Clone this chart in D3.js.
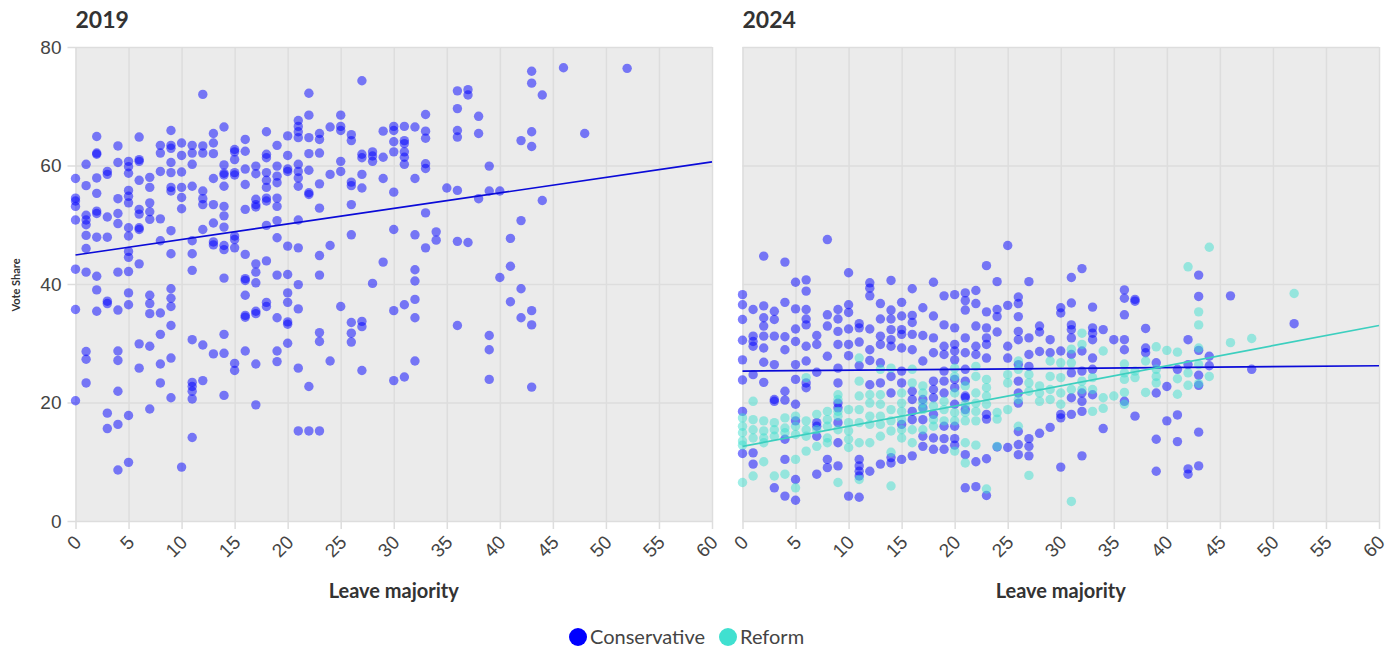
<!DOCTYPE html>
<meta charset="utf-8" />
<style>
  body {
    margin: 0;
    font-family: Lato, "Open Sans", sans-serif;
    background: #fff;
  }
  .domain {
    display: none;
  }
  .grid line {
    stroke: #dddddd;
    stroke-width: 1.5;
  }
  .tick text {
    fill: #444;
    font-size: 19px;
  }
</style>
<body>
  <div class="container"></div>

  <script src="https://d3js.org/d3.v7.min.js"></script>
  <script>
    // values: [leave majority, vote shares at that majority]
    const con2019 = [
      [0, [57.8, 54.5, 54.0, 53.1, 50.8, 42.5, 35.7, 20.3]],
      [1, [60.2, 56.6, 51.6, 50.8, 50.0, 48.2, 46.0, 42.0, 28.6, 27.3, 23.3]],
      [2, [64.9, 62.1, 61.9, 57.9, 55.3, 52.3, 51.9, 47.9, 41.3, 39.0, 35.4]],
      [3, [59.0, 58.5, 51.3, 47.9, 37.1, 36.7, 18.2, 15.6]],
      [4, [63.3, 60.5, 54.4, 51.9, 50.2, 42.0, 35.6, 28.7, 27.1, 21.9, 16.3, 8.6]],
      [5, [60.7, 59.8, 58.7, 55.8, 54.8, 53.7, 49.5, 48.1, 45.5, 44.5, 42.1, 38.5, 36.5, 17.8, 9.9]],
      [6, [64.8, 61.0, 60.7, 57.5, 52.6, 51.8, 49.5, 49.2, 43.4, 29.9, 25.8]],
      [7, [58.0, 56.3, 53.7, 52.2, 50.9, 38.1, 36.7, 35.0, 29.5, 18.9]],
      [8, [63.4, 62.1, 59.0, 51.0, 47.3, 35.1, 31.5, 26.5, 23.3]],
      [9, [65.9, 63.4, 62.9, 60.5, 58.8, 56.3, 55.7, 49.0, 45.1, 39.2, 37.6, 36.2, 33.0, 27.5, 20.8]],
      [10, [63.8, 61.7, 58.9, 56.3, 54.6, 52.7, 9.1]],
      [11, [63.4, 62.1, 60.2, 56.5, 47.3, 45.1, 42.3, 30.6, 23.4, 22.7, 21.9, 20.6, 14.1]],
      [12, [72.0, 63.3, 62.1, 55.7, 54.4, 53.4, 49.2, 29.7, 23.7]],
      [13, [65.4, 63.8, 62.0, 57.8, 53.4, 50.3, 47.1, 46.6, 28.2]],
      [14, [66.5, 60.1, 58.7, 58.4, 56.5, 53.1, 51.5, 49.6, 46.5, 45.8, 41.0, 31.5, 28.3, 21.2]],
      [15, [62.7, 62.3, 61.0, 58.8, 58.4, 48.1, 47.5, 46.1, 26.6, 25.4]],
      [16, [64.4, 62.4, 59.4, 56.8, 52.6, 45.0, 40.9, 40.6, 38.1, 34.7, 34.4, 28.7]],
      [17, [59.9, 58.6, 54.3, 53.4, 53.0, 43.4, 42.0, 40.2, 35.4, 35.0, 26.5, 19.6]],
      [18, [65.7, 61.9, 61.3, 58.8, 57.5, 56.3, 54.5, 54.0, 49.9, 43.9, 36.9, 36.2]],
      [19, [63.4, 59.9, 58.2, 57.1, 54.5, 53.1, 50.7, 47.8, 41.5, 34.3, 28.7, 26.9]],
      [20, [65.0, 61.7, 59.4, 59.0, 46.4, 41.6, 38.5, 36.9, 33.6, 33.2, 30.0]],
      [21, [67.6, 66.6, 65.7, 64.7, 60.2, 59.0, 57.9, 56.5, 50.8, 46.1, 39.9, 35.8, 25.8, 15.2]],
      [22, [72.2, 68.5, 64.7, 62.0, 59.2, 55.4, 55.1, 22.7, 15.2]],
      [23, [65.4, 64.4, 62.1, 56.9, 52.8, 44.8, 41.5, 31.8, 30.3, 15.2]],
      [24, [66.5, 58.5, 46.5, 27.0]],
      [25, [68.5, 66.6, 65.9, 60.7, 59.0, 36.2]],
      [26, [65.2, 64.2, 57.2, 56.6, 53.4, 48.3, 33.5, 31.7, 30.2]],
      [27, [74.3, 61.9, 61.3, 58.5, 56.2, 33.7, 32.8, 25.4]],
      [28, [62.3, 61.6, 60.7, 40.1]],
      [29, [65.8, 61.4, 57.8, 43.7]],
      [30, [66.6, 65.9, 64.0, 62.3, 55.5, 49.2, 35.5, 23.7]],
      [31, [66.6, 64.2, 63.7, 62.3, 61.4, 60.2, 36.5, 24.3]],
      [32, [66.5, 57.8, 48.3, 42.4, 40.5, 37.4, 34.3, 27.0]],
      [33, [68.6, 65.8, 64.6, 60.3, 59.5, 52.0, 46.1]],
      [34, [48.8, 47.4]],
      [35, [56.2]],
      [36, [72.6, 69.6, 65.9, 64.8, 55.8, 47.2, 33.0]],
      [37, [72.8, 71.9, 47.0]],
      [38, [68.3, 65.4, 54.4]],
      [39, [59.9, 55.7, 31.3, 28.9, 23.9]],
      [40, [55.7, 41.1]],
      [41, [47.7, 43.0, 37.0]],
      [42, [64.2, 50.7, 39.2, 34.3]],
      [43, [75.9, 73.9, 65.7, 63.2, 35.5, 33.1, 22.6]],
      [44, [71.9, 54.1]],
      [46, [76.5]],
      [48, [65.4]],
      [52, [76.4]]
    ];

    const con2024 = [
      [0, [38.2, 36.5, 34.0, 30.5, 27.2, 23.8, 18.5, 11.4]],
      [1, [35.7, 31.2, 30.3, 29.5, 24.7, 11.5, 9.6]],
      [2, [44.7, 36.3, 34.3, 32.9, 31.2, 29.2, 26.8, 23.4]],
      [3, [35.4, 34.0, 31.2, 26.4, 20.5, 20.2, 5.6]],
      [4, [43.7, 36.9, 31.1, 28.9, 21.9, 20.4, 13.8, 10.4, 4.2]],
      [5, [40.3, 35.8, 32.4, 30.3, 26.4, 23.9, 19.7, 16.9, 7.0, 3.5]],
      [6, [40.7, 38.8, 35.7, 34.1, 33.1, 29.5, 27.0, 23.3, 22.5]],
      [7, [31.3, 29.8, 25.1, 16.6, 16.0, 14.3, 7.9]],
      [8, [47.5, 34.8, 32.9, 27.8, 10.4, 9.0]],
      [9, [35.7, 34.1, 32.0, 29.8, 25.8, 23.3, 19.9, 19.1, 16.6, 13.2, 9.3]],
      [10, [41.9, 36.5, 35.2, 32.4, 29.8, 27.9, 4.2]],
      [11, [33.3, 32.6, 30.2, 26.2, 10.4, 9.3, 8.4, 7.6, 4.0]],
      [12, [40.2, 39.3, 38.0, 32.4, 28.9, 27.1, 23.0, 8.4]],
      [13, [36.7, 34.1, 31.2, 29.8, 26.7, 23.3, 9.6]],
      [14, [40.6, 35.6, 34.1, 32.3, 30.6, 29.5, 24.4, 21.6, 10.7, 9.8]],
      [15, [36.9, 34.6, 32.3, 31.5, 29.2, 25.3, 23.3, 16.3, 10.4]],
      [16, [39.2, 34.7, 33.5, 31.5, 28.9, 21.9, 20.5, 18.5, 17.1, 11.0]],
      [17, [36.0, 31.3, 27.0, 20.5, 19.1, 17.1, 14.3, 12.6]],
      [18, [40.3, 34.6, 30.9, 28.4, 23.6, 22.2, 20.8, 18.0, 14.0, 12.1]],
      [19, [38.0, 33.1, 29.5, 28.1, 25.3, 23.6, 21.6, 16.0, 13.9, 12.1]],
      [20, [38.2, 32.6, 29.8, 28.7, 27.2, 23.9, 22.5, 19.7, 16.0, 13.9, 12.8]],
      [21, [38.5, 37.2, 35.6, 30.9, 28.4, 25.6, 23.6, 21.1, 20.8, 18.8, 11.2, 5.6]],
      [22, [38.9, 36.7, 32.9, 29.5, 28.1, 10.0, 5.8]],
      [23, [43.1, 35.3, 32.6, 30.9, 29.8, 27.5, 18.0, 17.2, 10.5, 4.3]],
      [24, [40.4, 35.7, 34.5, 31.9, 12.5]],
      [25, [46.5, 36.4, 29.5, 27.5, 12.4]],
      [26, [37.8, 36.7, 34.5, 32.0, 30.6, 26.4, 23.6, 21.6, 19.9, 15.1, 12.9, 11.2]],
      [27, [40.4, 30.9, 28.1, 26.1, 13.9, 12.6, 11.0]],
      [28, [32.9, 31.9, 28.6, 14.8]],
      [29, [30.6, 28.4, 15.8]],
      [30, [36.0, 35.1, 28.7, 18.0, 17.4, 9.1]],
      [31, [41.1, 36.8, 33.1, 32.3, 30.9, 28.1, 25.0, 20.8, 18.0]],
      [32, [42.6, 28.7, 25.3, 21.6, 20.2, 18.5, 11.0]],
      [33, [36.1, 32.6, 31.7, 30.6, 27.5, 25.6, 21.3]],
      [34, [32.3, 15.6]],
      [35, [30.6]],
      [36, [39.0, 37.6, 34.8, 30.6, 28.9, 20.2]],
      [37, [37.4, 37.1, 17.7]],
      [38, [32.5, 29.2, 28.4]],
      [39, [26.7, 21.6, 13.8, 8.4]],
      [40, [22.7, 16.9]],
      [41, [25.6, 17.9, 13.4]],
      [42, [30.6, 26.4, 8.8, 7.9]],
      [43, [41.5, 37.9, 28.8, 24.6, 22.9, 15.0, 9.3]],
      [44, [27.8, 26.2]],
      [46, [38.0]],
      [48, [25.6]],
      [52, [33.3]]
    ];

    const reform2024 = [
      [0, [17.4, 16.0, 14.9, 13.5, 12.8, 6.5]],
      [1, [20.2, 17.1, 15.4, 14.0, 7.6]],
      [2, [16.9, 15.2, 14.0, 13.2, 10.0]],
      [3, [16.6, 15.4, 14.3, 7.6]],
      [4, [17.4, 15.7, 14.9, 7.9]],
      [5, [17.7, 16.0, 14.6, 10.4, 5.6]],
      [6, [24.2, 16.9, 15.4, 14.3, 11.8]],
      [7, [18.0, 15.4, 12.6]],
      [8, [18.5, 17.1, 16.0, 14.0, 13.2]],
      [9, [21.3, 20.5, 18.5, 17.7, 15.4, 6.5]],
      [10, [18.8, 16.6, 15.2, 13.8, 12.4]],
      [11, [27.5, 23.6, 21.1, 18.8, 16.6, 13.2, 7.0]],
      [12, [21.3, 19.9, 17.7, 16.3, 13.2]],
      [13, [25.6, 21.3, 19.7, 17.7, 16.3, 14.3]],
      [14, [25.8, 18.8, 16.9, 15.2, 11.6, 5.9]],
      [15, [21.6, 19.9, 18.5, 17.1, 15.4, 14.0]],
      [16, [25.6, 23.3, 15.4, 13.2]],
      [17, [22.8, 21.6, 19.9, 18.8, 15.4]],
      [18, [19.4, 17.1, 16.0]],
      [19, [20.2, 18.8, 16.9]],
      [20, [25.8, 24.4, 21.6, 18.3, 16.9, 11.8]],
      [21, [22.8, 19.7, 18.3, 16.9, 13.2, 9.8]],
      [22, [26.1, 24.4, 21.6, 19.9, 18.5, 16.9, 12.8]],
      [23, [23.9, 22.5, 21.1, 19.7, 5.4]],
      [24, [18.3, 17.2, 12.6]],
      [25, [24.7, 23.3, 18.8]],
      [26, [27.0, 25.6, 20.5, 16.0]],
      [27, [24.7, 23.3, 21.9, 7.7]],
      [28, [22.8, 21.6, 20.2]],
      [29, [27.0, 24.4, 22.2, 20.5]],
      [30, [26.7, 24.2, 21.6, 19.7]],
      [31, [29.0, 26.7, 22.2, 3.3]],
      [32, [31.7, 29.8, 23.6, 22.2]],
      [33, [24.2, 22.2, 18.5]],
      [34, [28.7, 20.8, 19.0]],
      [35, [21.1]],
      [36, [26.5, 25.0, 23.9, 21.7, 19.7]],
      [37, [25.3, 24.2]],
      [38, [27.0, 21.7]],
      [39, [29.4, 25.6, 24.4, 23.3]],
      [40, [28.8]],
      [41, [28.5, 24.0, 21.4]],
      [42, [42.9, 25.0, 22.9]],
      [43, [35.3, 33.1, 29.2, 26.4, 23.2]],
      [44, [46.2, 24.4]],
      [46, [30.1]],
      [48, [30.8]],
      [52, [38.4]]
    ];

    // fitted lines as drawn: [leave, share] at both ends
    const trendCon2019 = [[0, 44.9], [60, 60.6]];
    const trendCon2024 = [[0, 25.3], [60, 26.2]];
    const trendRef2024 = [[0, 12.6], [60, 33.0]];

    const xTicks = [0, 5, 10, 15, 20, 25, 30, 35, 40, 45, 50, 55, 60];
    const yTicks = [0, 20, 40, 60, 80];
    const parties = ["Conservative", "Reform"];

    const colors = { Conservative: "#0000ff", Reform: "#40e0d0" };
    const lineColors = { Conservative: "#0a0ad8", Reform: "#3ccfbf" };

    function flat(groups) {
      return groups.flatMap(([x, ys]) => ys.map((y) => ({ x: x, y: y })));
    }

    const svg = d3
      .select(".container")
      .append("svg")
      .attr("width", 1387)
      .attr("height", 647);

    const plotTop = 47,
      plotBottom = 521;

    const panels = [
      {
        title: "2019",
        left: 75.5,
        right: 712,
        labels: true,
        series: [{ party: "Conservative", data: flat(con2019), trend: trendCon2019 }]
      },
      {
        title: "2024",
        left: 742.5,
        right: 1379,
        labels: false,
        series: [
          { party: "Conservative", data: flat(con2024), trend: trendCon2024 },
          { party: "Reform", data: flat(reform2024), trend: trendRef2024 }
        ]
      }
    ];

    let y = d3.scaleLinear().domain([0, 80]).range([plotBottom, plotTop]);

    panels.forEach(function (p) {
      let x = d3.scaleLinear().domain([0, 60]).range([p.left, p.right]);
      let g = svg.append("g");

      g.append("rect")
        .attr("x", p.left)
        .attr("y", plotTop)
        .attr("width", p.right - p.left)
        .attr("height", plotBottom - plotTop)
        .attr("fill", "#ebebeb");

      // horizontal grid + y labels
      let yAxis = d3
        .axisLeft(y)
        .tickValues(yTicks)
        .tickSize(p.right - p.left + (p.labels ? 8 : 0))
        .tickPadding(6)
        .tickFormat(p.labels ? d3.format("d") : "");
      g.append("g")
        .attr("class", "grid")
        .attr("transform", "translate(" + p.right + ",0)")
        .call(yAxis);

      // vertical grid + rotated x labels
      let xAxis = d3
        .axisBottom(x)
        .tickValues(xTicks)
        .tickSize(-(plotBottom - plotTop + 8))
        .tickPadding(0);
      let xg = g
        .append("g")
        .attr("class", "grid")
        .attr("transform", "translate(0," + (plotBottom + 8) + ")")
        .call(xAxis);
      xg.selectAll(".tick text")
        .attr("text-anchor", "end")
        .attr("dy", "0")
        .attr("transform", "translate(-2,6) rotate(-45) translate(0,12)");

      g.append("text")
        .attr("x", p.left)
        .attr("y", 28)
        .attr("font-size", 23)
        .attr("font-weight", 700)
        .attr("fill", "#333")
        .text(p.title);

      g.append("text")
        .attr("x", (p.left + p.right) / 2)
        .attr("y", 598)
        .attr("text-anchor", "middle")
        .attr("font-size", 20)
        .attr("font-weight", 700)
        .attr("fill", "#333")
        .text("Leave majority");

      p.series.forEach(function (s) {
        g.append("g")
          .selectAll("circle")
          .data(s.data)
          .join("circle")
          .attr("cx", (d) => x(d.x))
          .attr("cy", (d) => y(d.y))
          .attr("r", 4.7)
          .attr("fill", colors[s.party])
          .attr("fill-opacity", 0.5);
      });

      p.series.forEach(function (s) {
        g.append("path")
          .datum(s.trend)
          .attr("fill", "none")
          .attr("stroke", lineColors[s.party])
          .attr("stroke-width", 1.7)
          .attr(
            "d",
            d3
              .line()
              .x((d) => x(d[0]))
              .y((d) => y(d[1]))
          );
      });
    });

    svg
      .append("text")
      .attr("transform", "translate(20,285) rotate(-90)")
      .attr("text-anchor", "middle")
      .attr("font-size", 11)
      .attr("font-weight", 700)
      .attr("fill", "#333")
      .text("Vote Share");

    // legend
    let legend = svg.append("g").attr("transform", "translate(578,637)");
    let lx = 0;
    parties.forEach(function (name) {
      legend
        .append("circle")
        .attr("cx", lx)
        .attr("cy", 0)
        .attr("r", 9)
        .attr("fill", colors[name]);
      let t = legend
        .append("text")
        .attr("x", lx + 12)
        .attr("y", 7)
        .attr("font-size", 20)
        .attr("fill", "#444")
        .text(name);
      lx += 12 + t.node().getComputedTextLength() + 23;
    });
  </script>
</body>
